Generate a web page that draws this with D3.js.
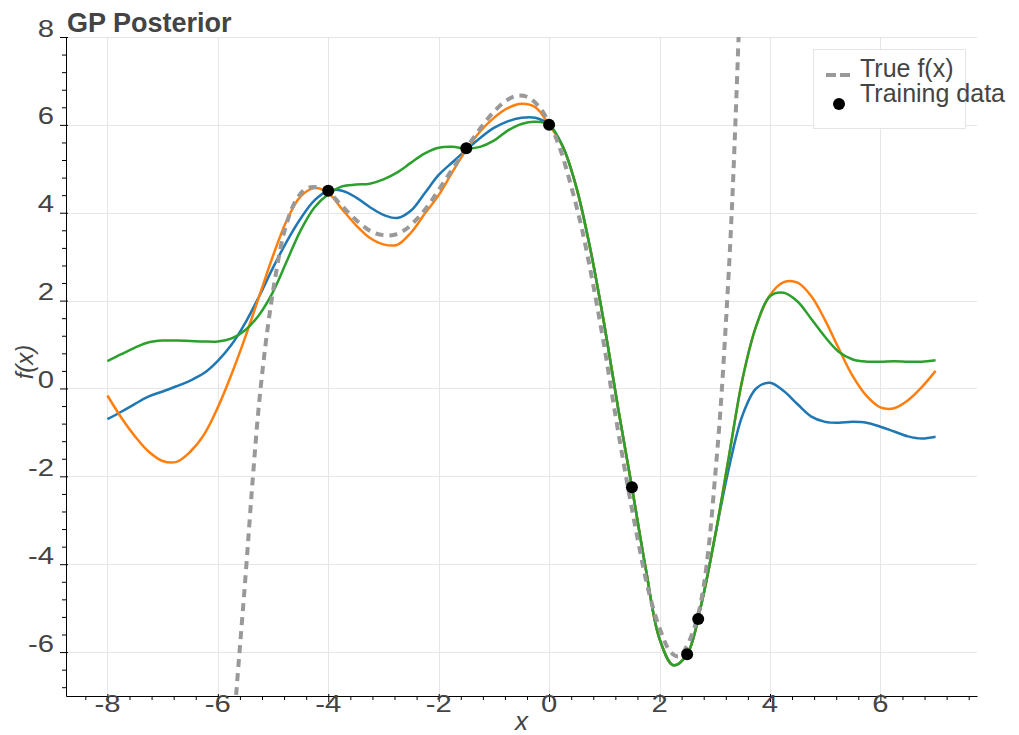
<!DOCTYPE html>
<html>
<head>
<meta charset="utf-8">
<script src="https://cdn.jsdelivr.net/npm/d3@7"></script>
<style>
  html, body { margin: 0; padding: 0; background: #fff; }
  svg { display: block; font-family: "Liberation Sans", Arial, Helvetica, sans-serif; }
</style>
</head>
<body>
<svg id="chart" width="1019" height="735"></svg>
<script>
// Grid of x positions shared by the three posterior samples
const sampleX = [-8.0, -7.75, -7.5, -7.25, -7.0, -6.75, -6.5, -6.25, -6.0, -5.75, -5.5, -5.25, -5.0,
  -4.75, -4.5, -4.25, -4.0, -3.75, -3.5, -3.25, -3.0, -2.75, -2.5, -2.25, -2.0, -1.75, -1.5, -1.25,
  -1.0, -0.75, -0.5, -0.25, 0.0, 0.25, 0.5, 0.75, 1.0, 1.25, 1.5, 1.75, 2.0, 2.25, 2.5, 2.75, 3.0,
  3.25, 3.5, 3.75, 4.0, 4.25, 4.5, 4.75, 5.0, 5.25, 5.5, 5.75, 6.0, 6.25, 6.5, 6.75, 7.0];

// Posterior sample draws
const sampleBlue = [-0.70, -0.53, -0.35, -0.18, -0.07, 0.05, 0.18, 0.35, 0.63, 1.0, 1.5, 2.1, 2.75,
  3.35, 3.87, 4.28, 4.5, 4.5, 4.35, 4.13, 3.95, 3.88, 4.05, 4.45, 4.86, 5.15, 5.43, 5.7,
  5.93, 6.08, 6.16, 6.16, 6.0, 5.5, 4.55, 3.15, 1.45, -0.45, -2.25, -4.1, -5.7, -6.3, -6.05, -4.95, -3.4,
  -1.85, -0.62, 0.0, 0.13, -0.06, -0.36, -0.64, -0.76, -0.78, -0.76, -0.78, -0.87, -0.98, -1.09, -1.14, -1.10];

const sampleOrange = [-0.16, -0.66, -1.09, -1.44, -1.65, -1.67, -1.44, -1.05, -0.43, 0.33, 1.18, 2.1, 3.02,
  3.83, 4.37, 4.56, 4.45, 4.08, 3.72, 3.43, 3.28, 3.27, 3.55, 3.98, 4.4, 4.93, 5.43, 5.85,
  6.16, 6.38, 6.48, 6.4, 6.0, 5.5, 4.55, 3.15, 1.45, -0.45, -2.25, -4.1, -5.7, -6.3, -6.05, -4.95, -3.4,
  -1.6, 0.2, 1.42, 2.12, 2.42, 2.41, 2.1, 1.55, 0.9, 0.28, -0.17, -0.43, -0.45, -0.27, 0.03, 0.40];

const sampleGreen = [0.62, 0.78, 0.93, 1.05, 1.09, 1.09, 1.08, 1.07, 1.07, 1.14, 1.33, 1.68, 2.2,
  2.9, 3.6, 4.12, 4.42, 4.6, 4.64, 4.66, 4.76, 4.92, 5.14, 5.35, 5.48, 5.5, 5.46, 5.5,
  5.64, 5.87, 6.02, 6.07, 6.0, 5.5, 4.55, 3.15, 1.45, -0.45, -2.25, -4.1, -5.7, -6.3, -6.05, -4.95, -3.4,
  -1.6, 0.2, 1.42, 2.1, 2.18, 1.98, 1.58, 1.17, 0.83, 0.66, 0.61, 0.61, 0.62, 0.61, 0.61, 0.64];

// True function f(x)
const trueX = [-5.8, -5.67, -5.5, -5.37, -5.25, -5.1, -4.95, -4.8, -4.6, -4.4, -4.2, -4.0, -3.8, -3.6,
  -3.4, -3.2, -3.0, -2.8, -2.6, -2.4, -2.2, -2.0, -1.8, -1.6, -1.4, -1.2, -1.0, -0.8, -0.6, -0.4,
  -0.2, 0.0, 0.2, 0.4, 0.6, 0.8, 1.0, 1.2, 1.4, 1.6, 1.8, 2.0, 2.2, 2.35, 2.5, 2.6, 2.7, 2.8, 2.9,
  3.0, 3.1, 3.2, 3.3, 3.4, 3.5];
const trueY = [-9.2, -7.0, -4.3, -2.1, -0.3, 1.35, 2.6, 3.55, 4.25, 4.55, 4.58, 4.47, 4.22, 3.96,
  3.73, 3.56, 3.49, 3.5, 3.62, 3.85, 4.15, 4.52, 4.9, 5.28, 5.65, 6.0, 6.3, 6.53, 6.66, 6.64,
  6.44, 6.05, 5.45, 4.6, 3.6, 2.35, 0.95, -0.6, -2.05, -3.4, -4.6, -5.45, -6.0, -6.1, -5.85, -5.55, -5.15, -4.5, -3.5,
  -2.1, -0.55, 1.45, 3.8, 6.9, 10.5];

// Observed training points
const trainX = [-4.0, -1.5, 0.0, 1.5, 2.5, 2.7];
const trainY = [4.5, 5.47, 6.0, -2.25, -6.05, -5.25];

// Axis ticks
const xMajorTicks = [-8, -6, -4, -2, 0, 2, 4, 6];
const yMajorTicks = [-6, -4, -2, 0, 2, 4, 6, 8];
const xTickLabels = ["-8", "-6", "-4", "-2", "0", "2", "4", "6"];
const yTickLabels = ["-6", "-4", "-2", "0", "2", "4", "6", "8"];

const sampleColors = ["#1f77b4", "#ff7f0e", "#2ca02c"];

const svg = d3.select("#chart");
const plot = { left: 66, right: 977, top: 37, bottom: 696 };

const x = d3.scaleLinear().domain([-8.75, 7.75]).range([plot.left, plot.right]);
const y = d3.scaleLinear().domain([-7, 8]).range([plot.bottom, plot.top]);

const xMinor = d3.range(-30, 30).map(i => +(i * 0.4).toFixed(2))
  .filter(v => v > -8.75 && v < 7.75 && !xMajorTicks.includes(v));
const yMinor = d3.range(-30, 30).map(i => +(i * 0.4).toFixed(2))
  .filter(v => v >= -7 && v <= 8 && !yMajorTicks.includes(v));

svg.append("defs").append("clipPath").attr("id", "plot-clip")
  .append("rect")
  .attr("x", plot.left).attr("y", plot.top)
  .attr("width", plot.right - plot.left).attr("height", plot.bottom - plot.top);

// Grid
const grid = svg.append("g").attr("stroke", "#e6e6e6").attr("stroke-width", 1);
grid.selectAll(".gx").data(xMajorTicks).join("line")
  .attr("x1", d => Math.round(x(d)) + 0.5).attr("x2", d => Math.round(x(d)) + 0.5)
  .attr("y1", plot.top).attr("y2", plot.bottom);
grid.selectAll(".gy").data(yMajorTicks).join("line")
  .attr("x1", plot.left).attr("x2", plot.right)
  .attr("y1", d => Math.round(y(d)) + 0.5).attr("y2", d => Math.round(y(d)) + 0.5);

// Curves
const body = svg.append("g").attr("clip-path", "url(#plot-clip)");
const lineGen = d3.line().x(d => x(d[0])).y(d => y(d[1])).curve(d3.curveCatmullRom.alpha(0.5));

[sampleBlue, sampleOrange, sampleGreen].forEach((ys, i) => {
  body.append("path")
    .datum(sampleX.map((xv, j) => [xv, ys[j]]))
    .attr("fill", "none")
    .attr("stroke", sampleColors[i])
    .attr("stroke-width", 2.5)
    .attr("stroke-linejoin", "round")
    .attr("d", lineGen);
});

body.append("path")
  .datum(trueX.map((xv, j) => [xv, trueY[j]]))
  .attr("fill", "none")
  .attr("stroke", "#999")
  .attr("stroke-width", 4)
  .attr("stroke-dasharray", "8,6")
  .attr("d", lineGen);

body.selectAll(".train").data(trainX.map((xv, j) => [xv, trainY[j]])).join("circle")
  .attr("cx", d => x(d[0])).attr("cy", d => y(d[1]))
  .attr("r", 6).attr("fill", "#000");

// Axes
const gx = svg.append("g").attr("transform", `translate(0,${plot.bottom})`)
  .call(d3.axisBottom(x).tickValues(xMajorTicks).tickSize(6).tickSizeOuter(0).tickFormat(""));
gx.selectAll(".tick line").attr("y1", -2);
const gxm = svg.append("g").attr("transform", `translate(0,${plot.bottom})`)
  .call(d3.axisBottom(x).tickValues(xMinor).tickSize(4).tickSizeOuter(0).tickFormat(""));
gxm.select(".domain").remove();

const gy = svg.append("g").attr("transform", `translate(${plot.left},0)`)
  .call(d3.axisLeft(y).tickValues(yMajorTicks).tickSize(6).tickSizeOuter(0).tickFormat(""));
gy.selectAll(".tick line").attr("x1", 2);
const gym = svg.append("g").attr("transform", `translate(${plot.left},0)`)
  .call(d3.axisLeft(y).tickValues(yMinor).tickSize(4).tickSizeOuter(0).tickFormat(""));
gym.select(".domain").remove();

svg.selectAll(".domain, .tick line").attr("stroke", "#000").attr("stroke-width", 1);

// Tick labels
svg.append("g").selectAll("text").data(xMajorTicks).join("text")
  .attr("transform", d => `translate(${x(d)},712) scale(1.22,1)`)
  .attr("text-anchor", "middle")
  .attr("font-size", 24).attr("fill", "#444")
  .text((d, i) => xTickLabels[i]);
svg.append("g").selectAll("text").data(yMajorTicks).join("text")
  .attr("transform", d => `translate(54,${y(d) - 0.5}) scale(1.22,1)`)
  .attr("text-anchor", "end")
  .attr("font-size", 24).attr("fill", "#444")
  .text((d, i) => yTickLabels[i]);

// Axis titles
svg.append("text")
  .attr("x", (plot.left + plot.right) / 2).attr("y", 730)
  .attr("text-anchor", "middle").attr("font-style", "italic")
  .attr("font-size", 26).attr("fill", "#444").text("x");
svg.append("text")
  .attr("transform", "translate(33,362) rotate(-90)")
  .attr("text-anchor", "middle").attr("font-style", "italic")
  .attr("font-size", 24).attr("fill", "#444").text("f(x)");

// Title
svg.append("text")
  .attr("x", 67).attr("y", 32)
  .attr("font-size", 27).attr("font-weight", "bold").attr("fill", "#444")
  .text("GP Posterior");

// Legend
const legend = svg.append("g");
legend.append("rect")
  .attr("x", 813.5).attr("y", 49.5).attr("width", 152).attr("height", 79)
  .attr("fill", "#fff").attr("fill-opacity", 0.95).attr("stroke", "#e5e5e5");
legend.append("line")
  .attr("x1", 826).attr("x2", 850).attr("y1", 75).attr("y2", 75)
  .attr("stroke", "#999").attr("stroke-width", 4).attr("stroke-dasharray", "10,4");
legend.append("circle").attr("cx", 839).attr("cy", 104).attr("r", 6).attr("fill", "#000");
legend.append("text").attr("x", 860).attr("y", 77)
  .attr("font-size", 25).attr("fill", "#444").text("True f(x)");
legend.append("text").attr("x", 860).attr("y", 102)
  .attr("font-size", 25).attr("fill", "#444").text("Training data");
</script>
</body>
</html>
